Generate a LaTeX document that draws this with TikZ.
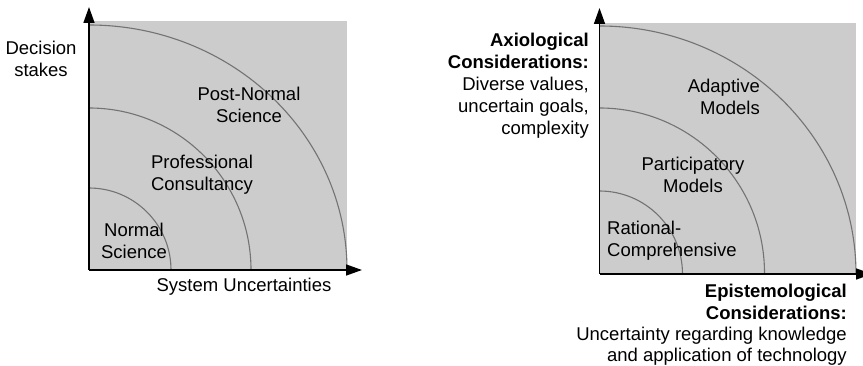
\documentclass[tikz,border=0pt]{standalone}
\usepackage{fontspec}
\setmainfont{Liberation Sans}
\usetikzlibrary{arrows.meta}
\begin{document}
\begin{tikzpicture}[x=1pt,y=-1pt,
  axis/.style={line width=1.5pt,-{Triangle[length=16pt,width=11pt]}},
  ring/.style={draw=black!55,line width=1.1pt},
  field/.style={fill=black!20},
  lbl/.style={inner sep=0pt,font=\fontsize{18.5}{22}\selectfont},
]
\useasboundingbox (0,0) rectangle (863,366);

% ---- left quadrant: decision stakes vs. system uncertainties ----
\coordinate (lo) at (89,270);
\coordinate (ly) at (89,7);
\coordinate (lx) at (362,270);
\fill[field] (89,21) rectangle (347,270);
\draw[ring] (89,188) arc[start angle=270,end angle=360,radius=82];
\draw[ring] (89,108) arc[start angle=270,end angle=360,radius=162];
\draw[ring] (89,25) arc[start angle=270,end angle=360,x radius=258,y radius=245];
\draw[axis] (lo) -- (ly);
\draw[axis] (lo) -- (lx);

\node[lbl,align=center] (dec) at (41,59) {Decision\\stakes};
\node[lbl,align=center] (pns) at (249,105) {Post-Normal\\Science};
\node[lbl,align=center] (pc) at (202,175) {Professional\\Consultancy};
\node[lbl,align=center] (ns) at (134,241) {Normal\\Science};
\node[lbl] (sys) at (244,287) {System Uncertainties};

% ---- right quadrant: axiological vs. epistemological considerations ----
\coordinate (ro) at (599.5,274);
\coordinate (ry) at (599.5,8);
\coordinate (rx) at (872,274);
\fill[field] (599.5,23) rectangle (856,274);
\draw[ring] (599.5,191) arc[start angle=270,end angle=360,radius=83];
\draw[ring] (599.5,108) arc[start angle=270,end angle=360,radius=165];
\draw[ring] (599.5,26) arc[start angle=270,end angle=360,x radius=256.5,y radius=248];
\draw[axis] (ro) -- (ry);
\draw[axis] (ro) -- (rx);

\node[lbl,align=right,anchor=east] (axio) at (589,86)
  {\textbf{Axiological}\\\textbf{Considerations:}\\Diverse values,\\uncertain goals,\\complexity};
\node[lbl,align=right,anchor=east] (adapt) at (760,97) {Adaptive\\Models};
\node[lbl,align=center] (part) at (693,175) {Participatory\\Models};
\node[lbl,align=left,anchor=west] (rat) at (607,241) {Rational-\\Comprehensive};
\node[lbl,align=right,anchor=east,font=\fontsize{18.5}{21.3}\selectfont] (epis) at (847,325)
  {\textbf{Epistemological}\\\textbf{Considerations:}\\Uncertainty regarding knowledge\\and application of technology};
\end{tikzpicture}
\end{document}
